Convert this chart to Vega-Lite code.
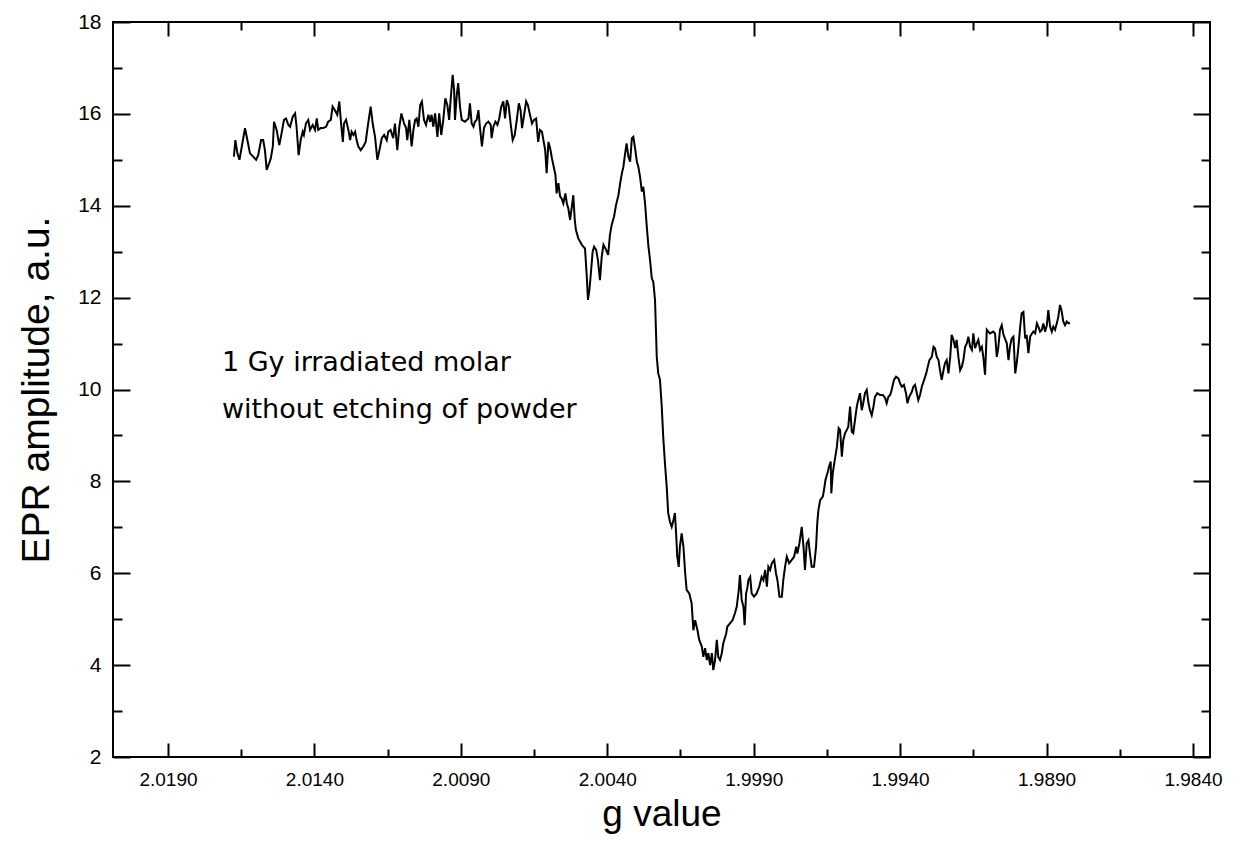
{
"$schema":"https://vega.github.io/schema/vega-lite/v6.json",
"width":1097,"height":735,
"autosize":{"type":"none"},
"padding":{"left":113,"top":22,"right":23,"bottom":101},
"background":"white",
"config":{"view":{"stroke":"black","strokeWidth":2},"axis":{"grid":false,"domain":false,"labelFont":"Liberation Sans","titleFont":"Liberation Sans","labelColor":"black","titleColor":"black","tickColor":"black","titleFontWeight":"normal","labelFlush":false,"labelOverlap":false}},
"datasets":{
"dummy":[{"g":2.0,"amp":10}],
"notes":[{"g":2.01716,"amp":10.58,"label":"1 Gy irradiated molar"},{"g":2.01716,"amp":9.55,"label":"without etching of powder"}],
"epr":[
{"g":2.01675,"amp":15.07},{"g":2.01670,"amp":15.43},{"g":2.01663,"amp":15.14},{"g":2.01656,"amp":15.00},{"g":2.01648,"amp":15.29},{"g":2.01637,"amp":15.69},{"g":2.01629,"amp":15.43},{"g":2.01620,"amp":15.14},{"g":2.01609,"amp":15.07},{"g":2.01599,"amp":15.00},{"g":2.01592,"amp":15.10},{"g":2.01582,"amp":15.43},{"g":2.01575,"amp":15.43},{"g":2.01569,"amp":15.21},{"g":2.01563,"amp":14.78},{"g":2.01555,"amp":14.92},{"g":2.01549,"amp":15.03},{"g":2.01542,"amp":15.29},{"g":2.01538,"amp":15.83},{"g":2.01529,"amp":15.65},{"g":2.01520,"amp":15.32},{"g":2.01512,"amp":15.58},{"g":2.01504,"amp":15.87},{"g":2.01497,"amp":15.90},{"g":2.01489,"amp":15.76},{"g":2.01483,"amp":15.72},{"g":2.01474,"amp":15.94},{"g":2.01466,"amp":16.01},{"g":2.01461,"amp":15.72},{"g":2.01454,"amp":15.10},{"g":2.01447,"amp":15.43},{"g":2.01440,"amp":15.61},{"g":2.01436,"amp":15.54},{"g":2.01429,"amp":15.79},{"g":2.01421,"amp":15.87},{"g":2.01415,"amp":15.65},{"g":2.01406,"amp":15.76},{"g":2.01398,"amp":15.65},{"g":2.01392,"amp":15.90},{"g":2.01387,"amp":15.65},{"g":2.01379,"amp":15.69},{"g":2.01370,"amp":15.69},{"g":2.01360,"amp":15.72},{"g":2.01353,"amp":15.83},{"g":2.01344,"amp":15.87},{"g":2.01338,"amp":16.16},{"g":2.01330,"amp":16.08},{"g":2.01322,"amp":15.98},{"g":2.01315,"amp":16.27},{"g":2.01309,"amp":15.79},{"g":2.01303,"amp":15.39},{"g":2.01299,"amp":15.79},{"g":2.01292,"amp":15.87},{"g":2.01284,"amp":15.65},{"g":2.01278,"amp":15.43},{"g":2.01273,"amp":15.61},{"g":2.01267,"amp":15.54},{"g":2.01261,"amp":15.61},{"g":2.01256,"amp":15.43},{"g":2.01250,"amp":15.29},{"g":2.01242,"amp":15.21},{"g":2.01233,"amp":15.29},{"g":2.01225,"amp":15.39},{"g":2.01218,"amp":15.72},{"g":2.01208,"amp":16.16},{"g":2.01201,"amp":15.79},{"g":2.01193,"amp":15.50},{"g":2.01185,"amp":15.00},{"g":2.01178,"amp":15.21},{"g":2.01170,"amp":15.47},{"g":2.01162,"amp":15.54},{"g":2.01153,"amp":15.43},{"g":2.01148,"amp":15.61},{"g":2.01140,"amp":15.65},{"g":2.01131,"amp":15.47},{"g":2.01125,"amp":15.79},{"g":2.01117,"amp":15.21},{"g":2.01110,"amp":15.72},{"g":2.01103,"amp":16.01},{"g":2.01094,"amp":15.79},{"g":2.01087,"amp":15.69},{"g":2.01083,"amp":15.43},{"g":2.01076,"amp":15.87},{"g":2.01068,"amp":15.29},{"g":2.01062,"amp":15.65},{"g":2.01056,"amp":15.87},{"g":2.01051,"amp":15.90},{"g":2.01045,"amp":15.72},{"g":2.01039,"amp":16.19},{"g":2.01033,"amp":16.27},{"g":2.01026,"amp":15.87},{"g":2.01019,"amp":15.76},{"g":2.01011,"amp":15.98},{"g":2.01005,"amp":15.83},{"g":2.01000,"amp":15.98},{"g":2.00994,"amp":15.72},{"g":2.00988,"amp":16.01},{"g":2.00980,"amp":15.50},{"g":2.00974,"amp":16.01},{"g":2.00967,"amp":15.54},{"g":2.00960,"amp":15.87},{"g":2.00953,"amp":16.34},{"g":2.00946,"amp":16.19},{"g":2.00940,"amp":15.87},{"g":2.00935,"amp":16.30},{"g":2.00928,"amp":16.85},{"g":2.00923,"amp":16.52},{"g":2.00920,"amp":15.87},{"g":2.00914,"amp":16.41},{"g":2.00909,"amp":16.67},{"g":2.00903,"amp":16.16},{"g":2.00897,"amp":15.87},{"g":2.00886,"amp":15.83},{"g":2.00874,"amp":15.90},
{"g":2.00869,"amp":16.23},{"g":2.00863,"amp":15.79},{"g":2.00857,"amp":15.72},{"g":2.00852,"amp":15.83},{"g":2.00846,"amp":15.87},{"g":2.00840,"amp":16.08},{"g":2.00835,"amp":15.72},{"g":2.00828,"amp":15.29},{"g":2.00821,"amp":15.69},{"g":2.00814,"amp":15.79},{"g":2.00806,"amp":15.83},{"g":2.00798,"amp":15.76},{"g":2.00795,"amp":15.47},{"g":2.00789,"amp":15.72},{"g":2.00782,"amp":15.83},{"g":2.00775,"amp":15.76},{"g":2.00769,"amp":15.90},{"g":2.00762,"amp":16.16},{"g":2.00755,"amp":16.27},{"g":2.00749,"amp":15.90},{"g":2.00743,"amp":16.30},{"g":2.00737,"amp":16.19},{"g":2.00730,"amp":15.79},{"g":2.00723,"amp":15.43},{"g":2.00716,"amp":15.54},{"g":2.00709,"amp":15.87},{"g":2.00702,"amp":16.23},{"g":2.00696,"amp":16.08},{"g":2.00691,"amp":15.69},{"g":2.00684,"amp":15.98},{"g":2.00677,"amp":16.27},{"g":2.00671,"amp":16.19},{"g":2.00664,"amp":15.98},{"g":2.00657,"amp":15.79},{"g":2.00650,"amp":15.87},{"g":2.00643,"amp":15.90},{"g":2.00636,"amp":15.39},{"g":2.00630,"amp":15.65},{"g":2.00623,"amp":15.61},{"g":2.00618,"amp":15.43},{"g":2.00612,"amp":15.21},{"g":2.00607,"amp":14.71},{"g":2.00601,"amp":15.39},{"g":2.00595,"amp":15.25},{"g":2.00589,"amp":15.03},{"g":2.00582,"amp":14.82},{"g":2.00577,"amp":14.67},{"g":2.00573,"amp":14.27},{"g":2.00567,"amp":14.49},{"g":2.00561,"amp":14.20},{"g":2.00556,"amp":14.16},{"g":2.00550,"amp":14.05},{"g":2.00543,"amp":14.27},{"g":2.00538,"amp":14.05},{"g":2.00533,"amp":13.94},{"g":2.00527,"amp":13.69},{"g":2.00521,"amp":13.98},{"g":2.00516,"amp":14.23},{"g":2.00511,"amp":13.69},{"g":2.00507,"amp":13.47},{"g":2.00499,"amp":13.29},{"g":2.00487,"amp":13.15},{"g":2.00476,"amp":13.07},{"g":2.00470,"amp":12.46},{"g":2.00466,"amp":11.95},{"g":2.00461,"amp":12.17},{"g":2.00456,"amp":12.53},{"g":2.00450,"amp":13.00},{"g":2.00445,"amp":13.11},{"g":2.00438,"amp":13.04},{"g":2.00432,"amp":12.82},{"g":2.00425,"amp":12.38},{"g":2.00419,"amp":12.89},{"g":2.00413,"amp":13.15},{"g":2.00404,"amp":13.04},{"g":2.00397,"amp":12.93},{"g":2.00391,"amp":13.36},{"g":2.00385,"amp":13.58},{"g":2.00377,"amp":13.76},{"g":2.00370,"amp":14.02},{"g":2.00362,"amp":14.23},{"g":2.00356,"amp":14.49},{"g":2.00350,"amp":14.71},{"g":2.00345,"amp":14.85},{"g":2.00339,"amp":15.14},{"g":2.00334,"amp":15.36},{"g":2.00328,"amp":15.07},{"g":2.00322,"amp":14.96},{"g":2.00316,"amp":15.47},{"g":2.00311,"amp":15.50},{"g":2.00305,"amp":15.25},{"g":2.00299,"amp":14.96},{"g":2.00294,"amp":14.85},{"g":2.00288,"amp":14.63},{"g":2.00282,"amp":14.31},{"g":2.00277,"amp":14.41},{"g":2.00271,"amp":14.05},{"g":2.00265,"amp":13.54},{"g":2.00260,"amp":13.15},{"g":2.00254,"amp":12.82},{"g":2.00248,"amp":12.42},{"g":2.00243,"amp":12.35},{"g":2.00237,"amp":11.95},
{"g":2.00231,"amp":10.71},{"g":2.00226,"amp":10.35},{"g":2.00220,"amp":10.21},{"g":2.00214,"amp":9.63},{"g":2.00209,"amp":8.97},{"g":2.00203,"amp":8.39},{"g":2.00197,"amp":7.88},{"g":2.00192,"amp":7.31},{"g":2.00186,"amp":7.12},{"g":2.00180,"amp":7.01},{"g":2.00174,"amp":7.16},{"g":2.00169,"amp":7.31},{"g":2.00165,"amp":6.87},{"g":2.00161,"amp":6.36},{"g":2.00156,"amp":6.14},{"g":2.00152,"amp":6.58},{"g":2.00146,"amp":6.87},{"g":2.00140,"amp":6.58},{"g":2.00134,"amp":6.00},{"g":2.00129,"amp":5.64},{"g":2.00120,"amp":5.56},{"g":2.00112,"amp":5.35},{"g":2.00106,"amp":4.76},{"g":2.00100,"amp":4.98},{"g":2.00092,"amp":4.76},{"g":2.00086,"amp":4.55},{"g":2.00077,"amp":4.40},{"g":2.00072,"amp":4.18},{"g":2.00066,"amp":4.37},{"g":2.00060,"amp":4.11},{"g":2.00055,"amp":4.26},{"g":2.00049,"amp":4.00},{"g":2.00043,"amp":4.26},{"g":2.00038,"amp":3.89},{"g":2.00032,"amp":4.11},{"g":2.00026,"amp":4.55},{"g":2.00021,"amp":4.18},{"g":2.00015,"amp":4.11},{"g":2.00009,"amp":4.26},{"g":2.00004,"amp":4.47},{"g":1.99994,"amp":4.69},{"g":1.99990,"amp":4.84},{"g":1.99981,"amp":4.91},{"g":1.99972,"amp":4.98},{"g":1.99964,"amp":5.13},{"g":1.99958,"amp":5.27},{"g":1.99951,"amp":5.64},{"g":1.99947,"amp":5.96},{"g":1.99941,"amp":5.42},{"g":1.99935,"amp":5.27},{"g":1.99931,"amp":4.87},{"g":1.99926,"amp":5.56},{"g":1.99922,"amp":5.67},{"g":1.99918,"amp":5.85},{"g":1.99912,"amp":5.92},{"g":1.99907,"amp":5.56},{"g":1.99899,"amp":5.49},{"g":1.99890,"amp":5.56},{"g":1.99881,"amp":5.71},{"g":1.99873,"amp":5.92},{"g":1.99867,"amp":5.85},{"g":1.99861,"amp":6.07},{"g":1.99855,"amp":5.71},{"g":1.99850,"amp":6.14},{"g":1.99844,"amp":6.07},{"g":1.99838,"amp":6.22},{"g":1.99830,"amp":6.29},{"g":1.99824,"amp":6.00},{"g":1.99819,"amp":5.85},{"g":1.99812,"amp":5.49},{"g":1.99804,"amp":5.49},{"g":1.99799,"amp":5.85},{"g":1.99793,"amp":6.14},{"g":1.99787,"amp":6.36},{"g":1.99779,"amp":6.22},{"g":1.99770,"amp":6.29},{"g":1.99762,"amp":6.36},{"g":1.99755,"amp":6.58},{"g":1.99751,"amp":6.43},{"g":1.99744,"amp":6.65},{"g":1.99736,"amp":7.01},{"g":1.99730,"amp":6.58},{"g":1.99725,"amp":6.07},{"g":1.99719,"amp":6.65},{"g":1.99713,"amp":6.72},{"g":1.99708,"amp":6.43},{"g":1.99702,"amp":6.14},{"g":1.99694,"amp":6.14},{"g":1.99687,"amp":6.58},{"g":1.99683,"amp":7.09},{"g":1.99679,"amp":7.38},{"g":1.99673,"amp":7.59},{"g":1.99664,"amp":7.67},{"g":1.99660,"amp":7.81},{"g":1.99655,"amp":8.03},{"g":1.99648,"amp":8.18},{"g":1.99643,"amp":8.32},{"g":1.99637,"amp":8.43},{"g":1.99635,"amp":7.74},{"g":1.99630,"amp":8.18},{"g":1.99625,"amp":8.39},{"g":1.99616,"amp":8.75},{"g":1.99610,"amp":9.16},{"g":1.99605,"amp":9.12},{"g":1.99599,"amp":8.54},{"g":1.99594,"amp":8.90},{"g":1.99588,"amp":9.05},{"g":1.99582,"amp":9.12},{"g":1.99577,"amp":9.19},{"g":1.99571,"amp":9.63},{"g":1.99565,"amp":9.08},{"g":1.99560,"amp":9.05},{"g":1.99554,"amp":9.34},{"g":1.99548,"amp":9.63},{"g":1.99543,"amp":9.77},{"g":1.99537,"amp":9.92},{"g":1.99531,"amp":9.55},{"g":1.99526,"amp":9.70},{"g":1.99520,"amp":9.92},{"g":1.99514,"amp":9.99},{"g":1.99508,"amp":9.70},{"g":1.99503,"amp":9.55},
{"g":1.99497,"amp":9.44},{"g":1.99491,"amp":9.63},{"g":1.99486,"amp":9.84},{"g":1.99478,"amp":9.92},{"g":1.99468,"amp":9.88},{"g":1.99459,"amp":9.88},{"g":1.99451,"amp":9.81},{"g":1.99446,"amp":9.70},{"g":1.99440,"amp":9.84},{"g":1.99434,"amp":9.88},{"g":1.99429,"amp":9.99},{"g":1.99421,"amp":10.21},{"g":1.99414,"amp":10.28},{"g":1.99406,"amp":10.24},{"g":1.99400,"amp":10.13},{"g":1.99394,"amp":10.06},{"g":1.99387,"amp":10.10},{"g":1.99380,"amp":9.92},{"g":1.99375,"amp":9.70},{"g":1.99369,"amp":9.84},{"g":1.99360,"amp":9.95},{"g":1.99355,"amp":10.06},{"g":1.99349,"amp":10.10},{"g":1.99343,"amp":9.92},{"g":1.99338,"amp":9.77},{"g":1.99332,"amp":9.88},{"g":1.99326,"amp":10.06},{"g":1.99318,"amp":10.21},{"g":1.99311,"amp":10.35},{"g":1.99307,"amp":10.46},{"g":1.99300,"amp":10.64},{"g":1.99292,"amp":10.71},{"g":1.99286,"amp":10.93},{"g":1.99281,"amp":10.90},{"g":1.99275,"amp":10.71},{"g":1.99269,"amp":10.64},{"g":1.99264,"amp":10.42},{"g":1.99258,"amp":10.21},{"g":1.99252,"amp":10.42},{"g":1.99247,"amp":10.57},{"g":1.99241,"amp":10.64},{"g":1.99235,"amp":10.35},{"g":1.99229,"amp":10.71},{"g":1.99224,"amp":11.19},{"g":1.99218,"amp":11.08},{"g":1.99212,"amp":10.90},{"g":1.99207,"amp":11.08},{"g":1.99201,"amp":10.71},{"g":1.99195,"amp":10.42},{"g":1.99189,"amp":10.50},{"g":1.99184,"amp":10.64},{"g":1.99178,"amp":10.93},{"g":1.99172,"amp":11.01},{"g":1.99167,"amp":11.15},{"g":1.99161,"amp":10.93},{"g":1.99155,"amp":10.86},{"g":1.99150,"amp":11.22},{"g":1.99144,"amp":10.90},{"g":1.99138,"amp":11.01},{"g":1.99133,"amp":11.08},{"g":1.99127,"amp":10.86},{"g":1.99121,"amp":10.93},{"g":1.99116,"amp":10.71},{"g":1.99110,"amp":10.32},{"g":1.99104,"amp":11.30},{"g":1.99099,"amp":11.26},{"g":1.99093,"amp":11.22},{"g":1.99082,"amp":11.26},{"g":1.99076,"amp":11.22},{"g":1.99070,"amp":10.71},{"g":1.99065,"amp":10.90},{"g":1.99059,"amp":11.30},{"g":1.99053,"amp":11.40},{"g":1.99047,"amp":11.19},{"g":1.99042,"amp":11.11},{"g":1.99036,"amp":11.01},{"g":1.99030,"amp":10.64},{"g":1.99025,"amp":10.93},{"g":1.99019,"amp":11.11},{"g":1.99013,"amp":11.15},{"g":1.99007,"amp":10.35},{"g":1.99002,"amp":10.57},{"g":1.98996,"amp":10.93},{"g":1.98990,"amp":11.37},{"g":1.98985,"amp":11.66},{"g":1.98979,"amp":11.69},{"g":1.98973,"amp":11.11},{"g":1.98968,"amp":11.19},{"g":1.98962,"amp":10.79},{"g":1.98956,"amp":11.15},{"g":1.98950,"amp":11.22},{"g":1.98945,"amp":11.26},{"g":1.98939,"amp":11.22},{"g":1.98933,"amp":11.44},{"g":1.98928,"amp":11.37},{"g":1.98922,"amp":11.26},{"g":1.98916,"amp":11.30},{"g":1.98911,"amp":11.44},{"g":1.98905,"amp":11.26},{"g":1.98899,"amp":11.40},{"g":1.98894,"amp":11.73},{"g":1.98888,"amp":11.37},{"g":1.98882,"amp":11.26},{"g":1.98877,"amp":11.37},{"g":1.98871,"amp":11.30},{"g":1.98865,"amp":11.44},{"g":1.98860,"amp":11.58},{"g":1.98854,"amp":11.84},{"g":1.98848,"amp":11.69},{"g":1.98843,"amp":11.48},{"g":1.98837,"amp":11.40},{"g":1.98831,"amp":11.48},{"g":1.98825,"amp":11.44},{"g":1.98820,"amp":11.45}
]},
"resolve":{"scale":{"x":"independent","y":"independent"},"axis":{"x":"independent","y":"independent"}},
"layer":[
{"data":{"name":"epr"},"mark":{"type":"line","color":"black","strokeWidth":2,"clip":true},
"encoding":{
"x":{"field":"g","type":"quantitative","sort":null,"scale":{"domain":[1.983419,2.020878],"reverse":true,"nice":false,"zero":false},
"axis":{"orient":"bottom","values":[2.019,2.014,2.009,2.004,1.999,1.994,1.989,1.984],"format":".4f","ticks":false,"labelFontSize":19,"labelPadding":13,"title":"g value","titleFontSize":37,"titlePadding":7}},
"y":{"field":"amp","type":"quantitative","scale":{"domain":[2,18],"nice":false,"zero":false},
"axis":{"orient":"left","values":[2,4,6,8,10,12,14,16,18],"ticks":false,"labelFontSize":21,"labelPadding":12,"title":"EPR amplitude, a.u.","titleFontSize":39,"titlePadding":21}}}},
{"data":{"name":"dummy"},"mark":{"type":"point","opacity":0},
"encoding":{
"x":{"field":"g","type":"quantitative","scale":{"domain":[1.983419,2.020878],"reverse":true,"nice":false,"zero":false},
"axis":{"orient":"bottom","values":[2.019,2.014,2.009,2.004,1.999,1.994,1.989,1.984],"labels":false,"tickSize":-14,"tickWidth":2,"title":null}},
"y":{"field":"amp","type":"quantitative","scale":{"domain":[2,18],"nice":false,"zero":false},
"axis":{"orient":"left","values":[2,4,6,8,10,12,14,16,18],"labels":false,"tickSize":-17,"tickWidth":2,"title":null}}}},
{"data":{"name":"dummy"},"mark":{"type":"point","opacity":0},
"encoding":{
"x":{"field":"g","type":"quantitative","scale":{"domain":[1.983419,2.020878],"reverse":true,"nice":false,"zero":false},
"axis":{"orient":"bottom","values":[2.0165,2.0115,2.0065,2.0015,1.9965,1.9915,1.9865],"labels":false,"tickSize":-8,"tickWidth":2,"title":null}},
"y":{"field":"amp","type":"quantitative","scale":{"domain":[2,18],"nice":false,"zero":false},
"axis":{"orient":"left","values":[3,5,7,9,11,13,15,17],"labels":false,"tickSize":-9,"tickWidth":2,"title":null}}}},
{"data":{"name":"dummy"},"mark":{"type":"point","opacity":0},
"encoding":{
"x":{"field":"g","type":"quantitative","scale":{"domain":[1.983419,2.020878],"reverse":true,"nice":false,"zero":false},
"axis":{"orient":"top","values":[2.019,2.014,2.009,2.004,1.999,1.994,1.989,1.984],"labels":false,"tickSize":-14,"tickWidth":2,"title":null}},
"y":{"field":"amp","type":"quantitative","scale":{"domain":[2,18],"nice":false,"zero":false},
"axis":{"orient":"right","values":[2,4,6,8,10,12,14,16,18],"labels":false,"tickSize":-17,"tickWidth":2,"title":null}}}},
{"data":{"name":"dummy"},"mark":{"type":"point","opacity":0},
"encoding":{
"x":{"field":"g","type":"quantitative","scale":{"domain":[1.983419,2.020878],"reverse":true,"nice":false,"zero":false},
"axis":{"orient":"top","values":[2.0165,2.0115,2.0065,2.0015,1.9965,1.9915,1.9865],"labels":false,"tickSize":-8,"tickWidth":2,"title":null}},
"y":{"field":"amp","type":"quantitative","scale":{"domain":[2,18],"nice":false,"zero":false},
"axis":{"orient":"right","values":[3,5,7,9,11,13,15,17],"labels":false,"tickSize":-9,"tickWidth":2,"title":null}}}},
{"data":{"name":"notes"},"mark":{"type":"text","align":"left","baseline":"middle","font":"DejaVu Sans","fontSize":27,"color":"black"},
"encoding":{
"x":{"field":"g","type":"quantitative","scale":{"domain":[1.983419,2.020878],"reverse":true,"nice":false,"zero":false},"axis":null},
"y":{"field":"amp","type":"quantitative","scale":{"domain":[2,18],"nice":false,"zero":false},"axis":null},
"text":{"field":"label"}}}
]
}
